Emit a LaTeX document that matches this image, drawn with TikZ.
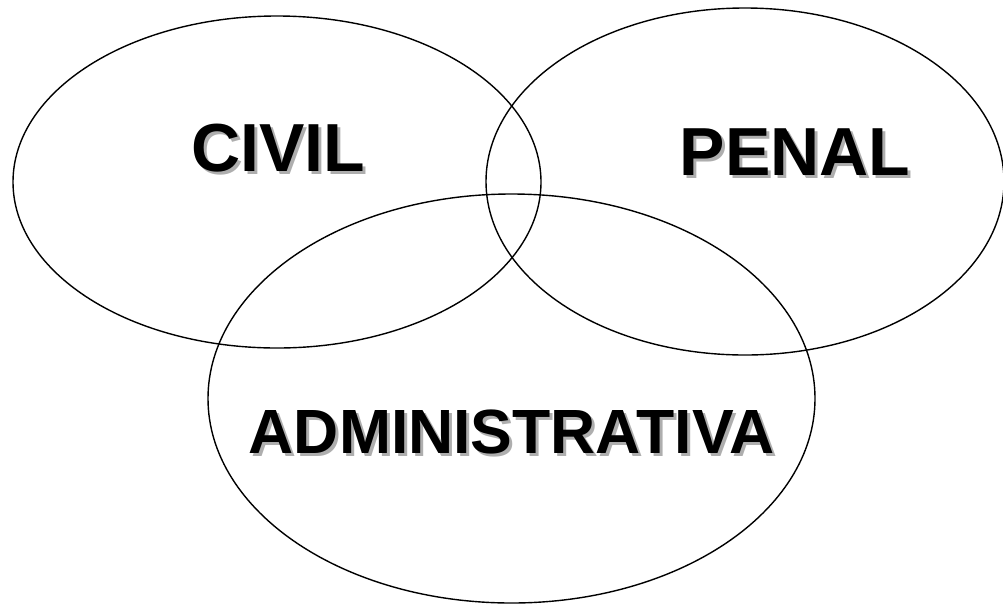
\documentclass[tikz,border=0pt]{standalone}
\usepackage{fontspec}
\setmainfont{Liberation Sans}
\begin{document}
\begin{tikzpicture}[x=1pt,y=-1pt,
  ring/.style={draw=black,line width=1.4pt},
  shadowtxt/.style={inner sep=0pt,text=black!45,opacity=0.7},
  lbl/.style={inner sep=0pt,text=black},
  big/.style={font=\bfseries\fontsize{68}{68}\selectfont},
  mid/.style={font=\bfseries\fontsize{62.5}{62.5}\selectfont}]
\useasboundingbox (0,0) rectangle (1003,603);
\draw[ring] (277,182) ellipse [x radius=264, y radius=166];
\draw[ring] (745,181.5) ellipse [x radius=259, y radius=173.5];
\draw[ring] (511.5,398.5) ellipse [x radius=303.5, y radius=204.5];
% shadows
\node[shadowtxt,big] (civilsh) at (281,151) {CIVIL};
\node[shadowtxt,big] (penalsh) at (798,155.5) {PENAL};
\node[shadowtxt,mid] (adminsh) at (514.5,435) {ADMINISTRATIVA};
% labels
\node[lbl,big] (civil) at (278,148) {CIVIL};
\node[lbl,big] (penal) at (795,152.5) {PENAL};
\node[lbl,mid] (admin) at (511.5,432) {ADMINISTRATIVA};
\end{tikzpicture}
\end{document}
